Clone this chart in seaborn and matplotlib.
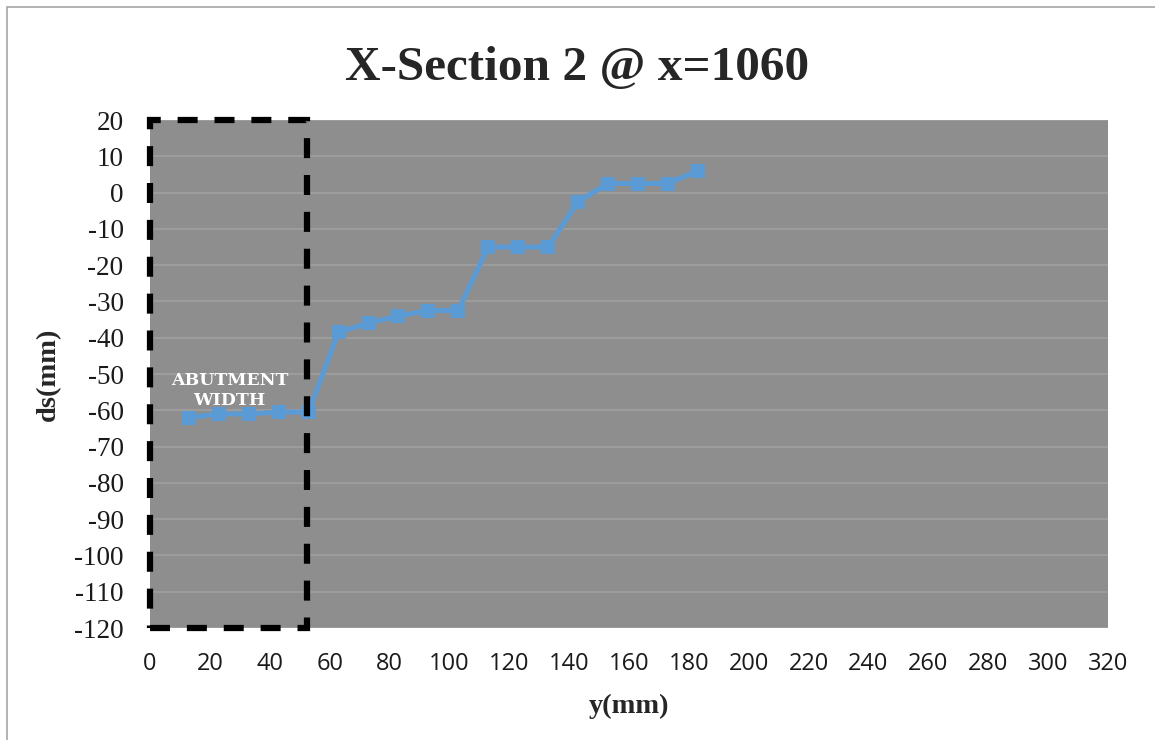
import matplotlib
matplotlib.use("Agg")
import matplotlib.pyplot as plt
import matplotlib.patches as mpatches
import seaborn as sns
import pandas as pd

# Scour depth measured across section 2
y_mm = [13, 23, 33, 43, 53, 63, 73, 83, 93, 103, 113, 123, 133, 143, 153, 163, 173, 183]
ds_mm = [-62, -61, -61, -60.5, -60.5, -38.5, -36, -34, -32.5, -32.5,
         -15, -15, -15, -2.5, 2.5, 2.5, 2.5, 6]

x_ticks = list(range(0, 321, 20))
y_ticks = list(range(-120, 21, 10))
abutment_width = 52.5

df = pd.DataFrame({"y(mm)": y_mm, "ds(mm)": ds_mm})

sns.set_theme(style="white")
plt.rcParams["font.family"] = ["Liberation Serif", "DejaVu Serif"]
plt.rcParams["axes.unicode_minus"] = False

fig = plt.figure(figsize=(11.55, 7.4), dpi=100)
fig.patch.set_facecolor("white")

# chart-area outline
fig.add_artist(mpatches.Rectangle((7 / 1155, -0.1), 1.2, 733 / 740 + 0.1,
                                  transform=fig.transFigure, fill=False,
                                  edgecolor="#a6a6a6", linewidth=1.2))

ax = fig.add_axes([150 / 1155, 1 - 628 / 740, 958 / 1155, 508 / 740])
ax.set_facecolor("#8e8e8e")
for s in ax.spines.values():
    s.set_visible(False)

ax.set_xlim(0, 320)
ax.set_ylim(-120, 20)
ax.set_xticks(x_ticks)
ax.set_yticks(y_ticks)
ax.yaxis.grid(True, color="#a0a0a0", linewidth=1.2)
ax.xaxis.grid(False)
ax.set_axisbelow(True)
ax.tick_params(axis="both", length=0)
ax.tick_params(axis="x", pad=17)
ax.tick_params(axis="y", pad=19)

for lab in ax.get_xticklabels():
    lab.set_fontfamily(["Open Sans", "DejaVu Sans"])
    lab.set_fontsize(17)
    lab.set_color("#1a1a1a")
for lab in ax.get_yticklabels():
    lab.set_fontfamily(["Liberation Serif", "DejaVu Serif"])
    lab.set_fontsize(19.5)
    lab.set_color("#1a1a1a")

sns.lineplot(data=df, x="y(mm)", y="ds(mm)", ax=ax, color="#5b9bd5",
             linewidth=3.6, marker="s", markersize=9.5, markeredgewidth=0,
             zorder=3)

# abutment outline
ax.add_patch(mpatches.Rectangle((0, -120), abutment_width, 140, fill=False,
                                edgecolor="black", linewidth=4.5,
                                linestyle=(0, (3.2, 2.7)), clip_on=False,
                                zorder=4))
ax.text(26.5, -54.5, "ABUTMENT\nWIDTH", color="white", fontsize=12.5,
        fontfamily="DejaVu Serif", fontweight="bold", ha="center",
        va="center", linespacing=1.25, zorder=5)

ax.set_xlabel("y(mm)", fontsize=20.5, fontweight="bold", labelpad=13)
ax.set_ylabel("ds(mm)", fontsize=20.5, fontweight="bold", labelpad=9)
fig.text(0.5, 1 - 80 / 740, "X-Section 2 @ x=1060", ha="center",
         va="baseline", fontsize=35.5, fontweight="bold")

fig.savefig("out.png", dpi=100)
